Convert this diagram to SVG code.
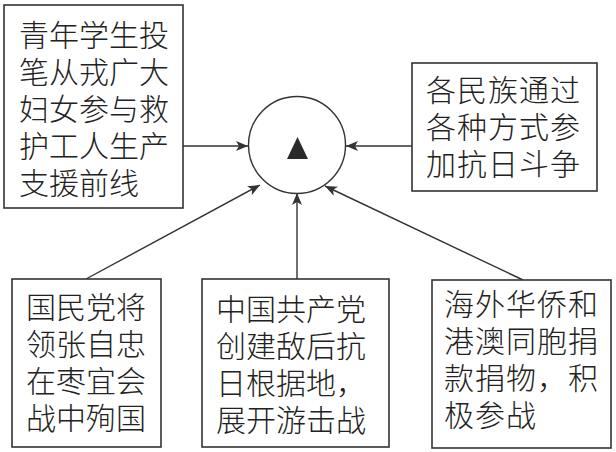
<svg xmlns="http://www.w3.org/2000/svg" width="616" height="452" viewBox="0 0 616 452">
<defs>
<style>
.box{fill:#fff;stroke:#333;stroke-width:1.6}
.t{font-family:"Noto Sans CJK SC","Noto Sans CJK JP",sans-serif;font-size:30px;font-weight:300;fill:#222}
.w{letter-spacing:1px}
.c{stroke:#333;stroke-width:1.4;fill:none}
</style>
<marker id="ah" viewBox="0 0 12 10" refX="12" refY="5" markerWidth="12" markerHeight="10" markerUnits="userSpaceOnUse" orient="auto">
<path d="M0,0 L12,5 L0,10 L3,5 Z" fill="#333"/>
</marker>
</defs>
<rect width="616" height="452" fill="#fff"/>
<g id="connectors">
<line class="c" x1="183" y1="146" x2="248" y2="146" marker-end="url(#ah)"/>
<line class="c" x1="412" y1="146" x2="346" y2="146" marker-end="url(#ah)"/>
<line class="c" x1="86" y1="279" x2="260" y2="185" marker-end="url(#ah)"/>
<line class="c" x1="297" y1="279" x2="297" y2="193" marker-end="url(#ah)"/>
<line class="c" x1="523" y1="280" x2="325" y2="186" marker-end="url(#ah)"/>
</g>
<g id="center">
<circle cx="297" cy="145" r="48.5" fill="#fff" stroke="#333" stroke-width="1.4"/>
<polygon points="297.5,137 287,159 308,159" fill="#2a2a2a"/>
</g>
<g id="n1">
<rect class="box" x="4" y="5" width="179" height="203"/>
<text class="t" x="19" y="46">青年学生投</text>
<text class="t" x="19" y="83">笔从戎广大</text>
<text class="t" x="19" y="120">妇女参与救</text>
<text class="t" x="19" y="157">护工人生产</text>
<text class="t" x="19" y="194">支援前线</text>
</g>
<g id="n2">
<rect class="box" x="412" y="63" width="185" height="128"/>
<text class="t w" x="426" y="101">各民族通过</text>
<text class="t w" x="426" y="138">各种方式参</text>
<text class="t w" x="426" y="175">加抗日斗争</text>
</g>
<g id="n3">
<rect class="box" x="12" y="279" width="149" height="168"/>
<text class="t" x="26" y="318">国民党将</text>
<text class="t" x="26" y="355">领张自忠</text>
<text class="t" x="26" y="392">在枣宜会</text>
<text class="t" x="26" y="429">战中殉国</text>
</g>
<g id="n4">
<rect class="box" x="202" y="279" width="187" height="168"/>
<text class="t" x="216" y="320">中国共产党</text>
<text class="t" x="216" y="357">创建敌后抗</text>
<text class="t" x="216" y="394">日根据地，</text>
<text class="t" x="216" y="431">展开游击战</text>
</g>
<g id="n5">
<rect class="box" x="432" y="280" width="179" height="168"/>
<text class="t w" x="444" y="315">海外华侨和</text>
<text class="t w" x="444" y="352">港澳同胞捐</text>
<text class="t w" x="444" y="389">款捐物，积</text>
<text class="t w" x="444" y="426">极参战</text>
</g>
</svg>
